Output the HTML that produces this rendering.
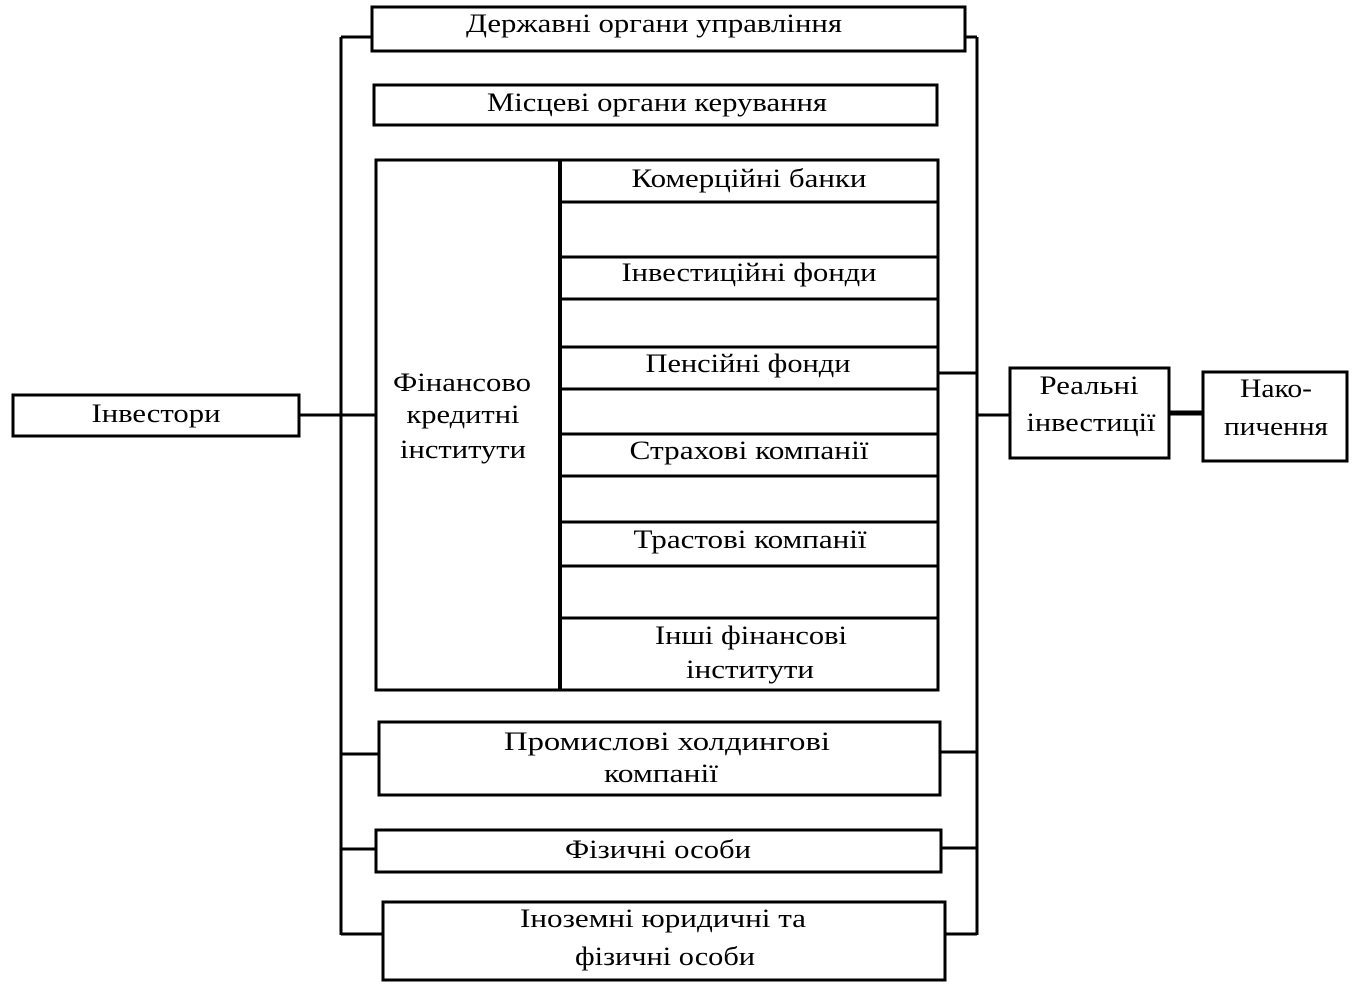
<!DOCTYPE html>
<html><head><meta charset="utf-8"><style>
html,body{margin:0;padding:0;background:#fff;}
svg{display:block}
text{font-family:"Liberation Serif","Times New Roman","DejaVu Serif",serif;font-size:26px;fill:#000;text-anchor:middle;}
</style></head><body>
<svg width="1360" height="994" viewBox="0 0 1360 994" xmlns="http://www.w3.org/2000/svg" font-family="Liberation Serif, serif">
<g fill="none" stroke="#000" stroke-width="3">
<line x1="341" y1="37" x2="341" y2="935"/>
<line x1="977" y1="37" x2="977" y2="935"/>
<line x1="341" y1="37" x2="372" y2="37"/>
<line x1="965" y1="37" x2="977" y2="37"/>
<rect x="372" y="7" width="593" height="44"/>
<rect x="374" y="85" width="563" height="40"/>
<rect x="376" y="160" width="562" height="530"/>
<line x1="560" y1="160" x2="560" y2="690" stroke-width="4"/>
<line x1="560" y1="202" x2="938" y2="202"/>
<line x1="560" y1="257" x2="938" y2="257"/>
<line x1="560" y1="299" x2="938" y2="299"/>
<line x1="560" y1="347" x2="938" y2="347"/>
<line x1="560" y1="389" x2="938" y2="389"/>
<line x1="560" y1="434" x2="938" y2="434"/>
<line x1="560" y1="476" x2="938" y2="476"/>
<line x1="560" y1="522" x2="938" y2="522"/>
<line x1="560" y1="566" x2="938" y2="566"/>
<line x1="560" y1="618" x2="938" y2="618"/>
<rect x="13" y="395" width="286" height="41"/>
<line x1="299" y1="415" x2="376" y2="415"/>
<line x1="938" y1="373" x2="977" y2="373"/>
<line x1="977" y1="415" x2="1010" y2="415"/>
<rect x="1010" y="368" width="159" height="90"/>
<line x1="1169" y1="413" x2="1203" y2="413" stroke-width="5"/>
<rect x="1203" y="372" width="144" height="89"/>
<rect x="379" y="722" width="561" height="73"/>
<line x1="341" y1="754" x2="379" y2="754"/>
<line x1="940" y1="752" x2="977" y2="752"/>
<rect x="376" y="830" width="565" height="42"/>
<line x1="341" y1="849" x2="376" y2="849"/>
<line x1="941" y1="848" x2="977" y2="848"/>
<rect x="383" y="902" width="562" height="78"/>
<line x1="341" y1="934" x2="383" y2="934"/>
<line x1="945" y1="934" x2="977" y2="934"/>
</g>
<g>
<text x="654" y="32" textLength="376" lengthAdjust="spacingAndGlyphs">Державні органи управління</text>
<text x="657" y="111" textLength="340" lengthAdjust="spacingAndGlyphs">Місцеві органи керування</text>
<text x="749" y="187" textLength="235" lengthAdjust="spacingAndGlyphs">Комерційні банки</text>
<text x="749" y="281" textLength="255" lengthAdjust="spacingAndGlyphs">Інвестиційні фонди</text>
<text x="748" y="372" textLength="205" lengthAdjust="spacingAndGlyphs">Пенсійні фонди</text>
<text x="749" y="459" textLength="239" lengthAdjust="spacingAndGlyphs">Страхові компанії</text>
<text x="750" y="548" textLength="233" lengthAdjust="spacingAndGlyphs">Трастові компанії</text>
<text x="751" y="644" textLength="192" lengthAdjust="spacingAndGlyphs">Інші фінансові</text>
<text x="750" y="678" textLength="128" lengthAdjust="spacingAndGlyphs">інститути</text>
<text x="462" y="391" textLength="138" lengthAdjust="spacingAndGlyphs">Фінансово</text>
<text x="463" y="423" textLength="113" lengthAdjust="spacingAndGlyphs">кредитні</text>
<text x="463" y="458" textLength="126" lengthAdjust="spacingAndGlyphs">інститути</text>
<text x="156" y="422" textLength="129" lengthAdjust="spacingAndGlyphs">Інвестори</text>
<text x="1089" y="394" textLength="99" lengthAdjust="spacingAndGlyphs">Реальні</text>
<text x="1091" y="431" textLength="129" lengthAdjust="spacingAndGlyphs">інвестиції</text>
<text x="1276" y="397" textLength="72" lengthAdjust="spacingAndGlyphs">Нако-</text>
<text x="1276" y="435" textLength="104" lengthAdjust="spacingAndGlyphs">пичення</text>
<text x="667" y="750" textLength="326" lengthAdjust="spacingAndGlyphs">Промислові холдингові</text>
<text x="661" y="782" textLength="114" lengthAdjust="spacingAndGlyphs">компанії</text>
<text x="658" y="858" textLength="186" lengthAdjust="spacingAndGlyphs">Фізичні особи</text>
<text x="663" y="927" textLength="286" lengthAdjust="spacingAndGlyphs">Іноземні юридичні та</text>
<text x="665" y="965" textLength="180" lengthAdjust="spacingAndGlyphs">фізичні особи</text>
</g>
</svg>
</body></html>
